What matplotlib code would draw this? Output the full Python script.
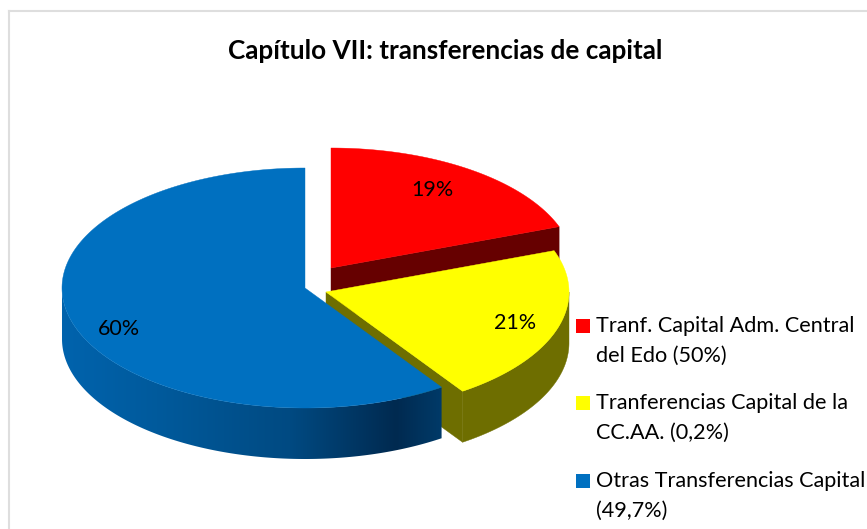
import numpy as np
from matplotlib import pyplot as plt
from matplotlib.colors import LinearSegmentedColormap
from matplotlib.patches import Polygon, Rectangle

# chart data
title = "Capítulo VII: transferencias de capital"
values = [19.4, 21.1, 59.5]
labels = ["Tranf. Capital Adm. Central\ndel Edo (50%)",
          "Tranferencias Capital de la\nCC.AA. (0,2%)",
          "Otras Transferencias Capital\n(49,7%)"]
colors = ["#ff0000", "#ffff00", "#0070c0"]
side_colors = ["#660000", "#6e6e00", "#004f8f"]

# pie geometry, in pixels of the picture
centers = [(331, 268), (326, 292), (305, 288)]
rx, ry = 243, 120
depth = 51

W, H = 867, 529
plt.rcParams["font.family"] = ["Lato", "DejaVu Sans"]

fig = plt.figure(figsize=(W / 100, H / 100), dpi=100)
ax = fig.add_axes([0, 0, 1, 1])
ax.set_xlim(0, W)
ax.set_ylim(H, 0)
ax.axis("off")

blue_side = LinearSegmentedColormap.from_list("side", [
    (0.0, "#0063ad"), (0.25, "#005a9c"), (0.6, "#004a82"),
    (0.88, "#002a50"), (1.0, "#003a68")])


def arc(center, a0, a1, n=200):
    t = np.radians(np.linspace(a0, a1, n))
    return center[0] + rx * np.sin(t), center[1] - ry * np.cos(t)


def top(center, a0, a1, color, z):
    x, y = arc(center, a0, a1)
    pts = np.column_stack([np.r_[center[0], x], np.r_[center[1], y]])
    ax.add_patch(Polygon(pts, closed=True, fc=color, ec=color, lw=0.3, zorder=z))


def side(center, a0, a1, color, z, cmap=None):
    # only the front half of the rim can be seen
    a0, a1 = max(a0, 90), min(a1, 270)
    if a1 <= a0:
        return
    x, y = arc(center, a0, a1)
    pts = np.column_stack([np.r_[x, x[::-1]], np.r_[y, y[::-1] + depth]])
    wall = Polygon(pts, closed=True, fc=color, ec=color, lw=0.3, zorder=z)
    ax.add_patch(wall)
    if cmap is not None:
        # smooth shading across the wall, clipped to its outline
        wall.set_visible(False)
        grad = np.linspace(0, 1, 256)[None, :]
        im = ax.imshow(grad, cmap=cmap, aspect="auto", zorder=z,
                       extent=[x.min(), x.max(), y.max() + depth, y.min()])
        im.set_clip_path(wall)
        ax.set_xlim(0, W)
        ax.set_ylim(H, 0)


def cut(center, angle, color, z):
    x, y = arc(center, angle, angle, 1)
    pts = [center, (x[0], y[0]), (x[0], y[0] + depth), (center[0], center[1] + depth)]
    ax.add_patch(Polygon(pts, closed=True, fc=color, ec=color, lw=0.3, zorder=z))


angles = np.r_[0, np.cumsum(values)] * 360 / sum(values)

# red first, then yellow over it, blue at the front
side(centers[0], angles[0], angles[1], side_colors[0], 1)
cut(centers[0], angles[1], side_colors[0], 1)
top(centers[0], angles[0], angles[1], colors[0], 2)
side(centers[1], angles[1], angles[2], side_colors[1], 3)
cut(centers[1], angles[2], side_colors[1], 3)
top(centers[1], angles[1], angles[2], colors[1], 4)
side(centers[2], angles[2], angles[3], side_colors[2], 5, blue_side)
top(centers[2], angles[2], angles[3], colors[2], 6)

# value labels
label_pos = [(432, 190), (515, 323), (119, 329)]
for v, p in zip(values, label_pos):
    ax.text(p[0], p[1], "%d%%" % round(v), ha="center", va="center",
            fontsize=15.5, color="black", zorder=10)

ax.text(445, 51, title, ha="center", va="center", fontsize=18.8,
        fontweight="bold", color="black")

# legend
legend_y = [326, 403, 481]
for lab, c, y in zip(labels, colors, legend_y):
    ax.add_patch(Rectangle((576, y - 7), 14, 14, fc=c, ec="none", zorder=10))
    first, second = lab.split("\n")
    ax.text(596, y, first, ha="left", va="center", fontsize=15.55, clip_on=True)
    ax.text(596, y + 29.5, second, ha="left", va="center", fontsize=15.55, clip_on=True)

# chart frame
ax.plot([8.5, 8.5], [H, 10.5], color="#dedede", lw=1.5)
ax.plot([8.5, W], [10.5, 10.5], color="#dedede", lw=1.5)

fig.savefig("out.png", dpi=100, facecolor="white")
